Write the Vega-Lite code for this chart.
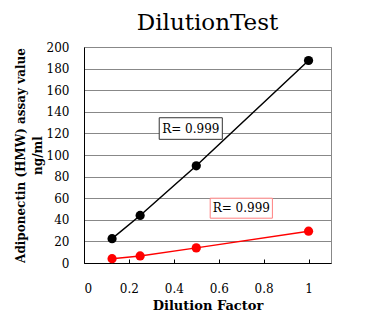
{
  "$schema": "https://vega.github.io/schema/vega-lite/v6.json",
  "autosize": {"type": "none"},
  "width": 247,
  "height": 216,
  "padding": {"left": 84, "top": 47, "right": 34, "bottom": 58},
  "background": "white",
  "title": {"text": "DilutionTest", "font": "DejaVu Serif", "fontSize": 23, "fontWeight": "normal", "color": "black", "offset": 6, "anchor": "middle"},
  "config": {
    "view": {"stroke": "#888888", "strokeWidth": 1},
    "font": "DejaVu Serif",
    "text": {"font": "DejaVu Serif"}
  },
  "datasets": {
    "pts": [
      {"f": 0.125, "v": 22.5, "s": "A"},
      {"f": 0.25, "v": 44, "s": "A"},
      {"f": 0.5, "v": 90, "s": "A"},
      {"f": 1, "v": 187.5, "s": "A"},
      {"f": 0.125, "v": 4, "s": "B"},
      {"f": 0.25, "v": 6.5, "s": "B"},
      {"f": 0.5, "v": 14, "s": "B"},
      {"f": 1, "v": 29.5, "s": "B"}
    ],
    "box": [
      {"f": 0.335, "f2": 0.616, "v": 114.5, "v2": 134.5, "s": "A"},
      {"f": 0.562, "f2": 0.839, "v": 41.5, "v2": 60, "s": "B"}
    ],
    "ann": [
      {"f": 0.4755, "v": 124.5, "label": "R= 0.999"},
      {"f": 0.7005, "v": 50.75, "label": "R= 0.999"}
    ]
  },
  "encoding": {
    "x": {"field": "f", "type": "quantitative", "scale": {"domain": [0, 1.1], "nice": false},
      "axis": {"values": [0, 0.2, 0.4, 0.6, 0.8, 1], "format": "~g", "grid": false, "domainColor": "black", "tickColor": "black", "tickSize": -4, "labelPadding": 24, "labelFont": "DejaVu Serif", "labelFontSize": 12, "labelColor": "black", "labelOverlap": false,
        "title": "Dilution Factor", "titleFont": "DejaVu Serif", "titleColor": "black", "titleFontSize": 13, "titleFontWeight": "bold", "titlePadding": 5}},
    "y": {"field": "v", "type": "quantitative", "scale": {"domain": [0, 200], "nice": false},
      "axis": {"values": [0, 20, 40, 60, 80, 100, 120, 140, 160, 180, 200], "grid": true, "gridColor": "#888888", "gridWidth": 1, "ticks": false, "domainColor": "black", "labelPadding": 15, "labelFont": "DejaVu Serif", "labelFontSize": 12, "labelColor": "black", "labelOverlap": false,
        "title": ["Adiponectin (HMW) assay value", "ng/ml"], "titleFont": "DejaVu Serif", "titleColor": "black", "titleFontSize": 12, "titleFontWeight": "bold", "titlePadding": 2, "titleLineHeight": 17}}
  },
  "layer": [
    {
      "data": {"name": "pts"},
      "mark": {"type": "line", "strokeWidth": 1.5},
      "encoding": {
        "color": {"field": "s", "type": "nominal", "scale": {"domain": ["A", "B"], "range": ["black", "#ff0000"]}, "legend": null}
      }
    },
    {
      "data": {"name": "pts"},
      "mark": {"type": "circle", "size": 85, "opacity": 1},
      "encoding": {
        "color": {"field": "s", "type": "nominal", "legend": null}
      }
    },
    {
      "data": {"name": "box"},
      "mark": {"type": "rect", "fill": "white", "strokeWidth": 1},
      "encoding": {
        "x2": {"field": "f2"},
        "y2": {"field": "v2"},
        "stroke": {"field": "s", "type": "nominal", "scale": {"domain": ["A", "B"], "range": ["#333333", "#ff8080"]}, "legend": null}
      }
    },
    {
      "data": {"name": "ann"},
      "mark": {"type": "text", "fontSize": 12, "color": "black", "align": "center", "baseline": "middle"},
      "encoding": {
        "text": {"field": "label"}
      }
    }
  ]
}
